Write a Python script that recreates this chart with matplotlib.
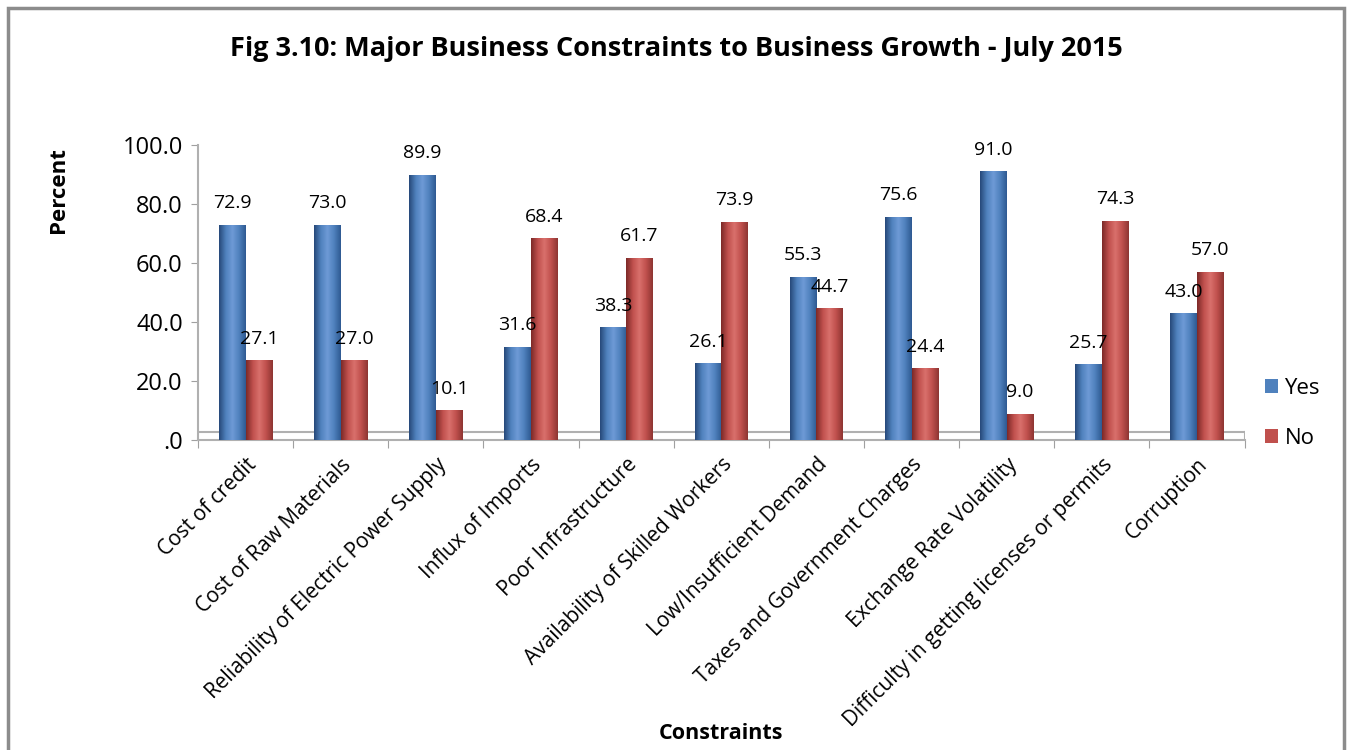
import numpy as np
import matplotlib
matplotlib.use("Agg")
import matplotlib.pyplot as plt
from matplotlib.colors import LinearSegmentedColormap
from matplotlib.patches import Rectangle

plt.rcParams['font.family'] = ['Open Sans', 'DejaVu Sans']

categories = ["Cost of credit", "Cost of Raw Materials", "Reliability of Electric Power Supply",
              "Influx of Imports", "Poor Infrastructure", "Availability of Skilled Workers",
              "Low/Insufficient Demand", "Taxes and Government Charges", "Exchange Rate Volatility",
              "Difficulty in getting licenses or permits", "Corruption"]
yes_vals = [72.9, 73.0, 89.9, 31.6, 38.3, 26.1, 55.3, 75.6, 91.0, 25.7, 43.0]
no_vals = [27.1, 27.0, 10.1, 68.4, 61.7, 73.9, 44.7, 24.4, 9.0, 74.3, 57.0]
ytick_vals = [0, 20, 40, 60, 80, 100]
ytick_labels = [".0", "20.0", "40.0", "60.0", "80.0", "100.0"]

blue_cmap = LinearSegmentedColormap.from_list("b", ["#27497a", "#4f81bd", "#6e9ad6", "#4f81bd", "#2f5a92"])
red_cmap = LinearSegmentedColormap.from_list("r", ["#7d2a28", "#c0504d", "#d9706c", "#c0504d", "#8e3532"])

fig = plt.figure(figsize=(13.52, 7.5), dpi=100)
ax = fig.add_axes([0.1465, 0.413, 0.774, 0.394])

x = np.arange(len(categories))
w = 0.28
bars_yes = ax.bar(x - w / 2, yes_vals, w, color="#4f81bd", label="Yes", zorder=3)
bars_no = ax.bar(x + w / 2, no_vals, w, color="#c0504d", label="No", zorder=3)

# cylinder-ish shading
grad = np.linspace(0, 1, 64).reshape(1, -1)
for bars, cmap in [(bars_yes, blue_cmap), (bars_no, red_cmap)]:
    for b in bars:
        im = ax.imshow(grad, cmap=cmap, aspect="auto", zorder=4,
                       extent=[b.get_x(), b.get_x() + b.get_width(), 0, b.get_height()])
        im.set_clip_path(b)

for b, v in zip(bars_yes, yes_vals):
    ax.annotate(f"{v:.1f}", (b.get_x() + b.get_width() / 2, v), xytext=(0, 9),
                textcoords="offset points", ha="center", va="bottom", fontsize=14, zorder=5)
for b, v in zip(bars_no, no_vals):
    ax.annotate(f"{v:.1f}", (b.get_x() + b.get_width() / 2, v), xytext=(0, 9),
                textcoords="offset points", ha="center", va="bottom", fontsize=14, zorder=5)

ax.set_xlim(-0.5, len(categories) - 0.5)
ax.set_ylim(0, 100)
ax.set_yticks(ytick_vals)
ax.set_yticklabels(ytick_labels, fontsize=17)
ax.set_xticks(np.arange(len(categories) + 1) - 0.5, minor=False)
ax.set_xticklabels([])
ax.set_xticks(x, minor=True)
ax.set_xticklabels(categories, minor=True, rotation=45, ha="right", rotation_mode="anchor", fontsize=15)
ax.tick_params(axis="x", which="minor", length=0, pad=10)
ax.tick_params(axis="x", which="major", length=6, color="#a0a0a0")
ax.tick_params(axis="y", length=5, color="#a0a0a0", pad=6)

for s in ["top", "right"]:
    ax.spines[s].set_visible(False)
ax.spines["left"].set_color("#b0b0b0")
ax.spines["bottom"].set_color("#b0b0b0")
ax.spines["left"].set_linewidth(1.5)
ax.spines["bottom"].set_linewidth(1.5)
ax.axhline(2.7, color="#b0b0b0", lw=1.5, zorder=1)
ax.axvline(len(categories) - 0.5, ymax=0.027, color="#b0b0b0", lw=1.5)

ax.legend(loc="center left", bbox_to_anchor=(1.0, 0.09), frameon=False, fontsize=16,
          handlelength=0.6, handleheight=0.6, labelspacing=1.3, handletextpad=0.3)

fig.text(0.5, 0.935, "Fig 3.10: Major Business Constraints to Business Growth - July 2015",
         ha="center", va="center", fontsize=19.5, fontweight="bold")
fig.text(0.043, 0.747, "Percent", rotation=90, ha="center", va="center", fontsize=16, fontweight="bold")
fig.text(0.533, 0.022, "Constraints", ha="center", va="center", fontsize=15.5, fontweight="bold")

fig.patches.append(Rectangle((0.006, -0.05), 0.988, 1.04, transform=fig.transFigure,
                             fill=False, edgecolor="#8c8c8c", lw=2.5))

fig.savefig("out.png", dpi=100)
